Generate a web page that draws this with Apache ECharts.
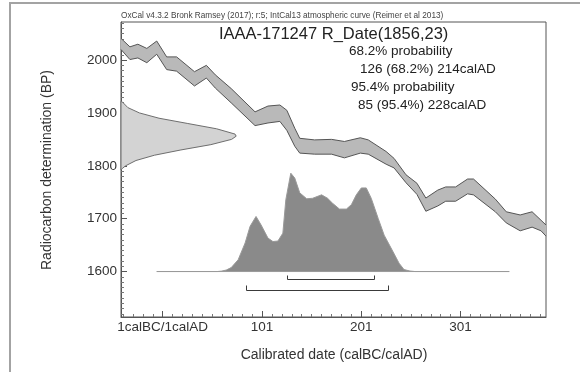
<!DOCTYPE html>
<html>
<head>
<meta charset="utf-8">
<script src="https://cdn.jsdelivr.net/npm/echarts@6/dist/echarts.min.js"></script>
<style>
  html, body { margin: 0; padding: 0; background: #fff; }
  #chart { width: 580px; height: 372px; }
</style>
</head>
<body>
<div id="chart"></div>
<script>
// IntCal13 calibration curve band (calendar year AD, upper / lower BP)
const curveYears = [-41, -32, -24, -15, -5, 5, 15, 33, 45, 54, 70, 94, 107, 119, 126, 134, 139, 154, 171, 184, 200, 208, 226, 234, 246, 257, 266, 278, 286, 296, 308, 314, 336, 347, 361, 373, 382, 387];
const curveUpper = [2041, 2025, 2030, 2022, 2036, 2006, 2006, 1978, 1990, 1972, 1946, 1902, 1913, 1915, 1905, 1871, 1852, 1849, 1850, 1846, 1853, 1849, 1827, 1814, 1783, 1767, 1739, 1754, 1760, 1760, 1775, 1775, 1737, 1713, 1707, 1713, 1697, 1688];
const curveLower = [2020, 2001, 2004, 1995, 2011, 1982, 1979, 1951, 1966, 1947, 1919, 1876, 1881, 1884, 1867, 1837, 1824, 1822, 1822, 1815, 1824, 1822, 1803, 1796, 1768, 1746, 1714, 1724, 1733, 1733, 1747, 1745, 1713, 1692, 1677, 1684, 1677, 1667];

// Radiocarbon measurement R_Date(1856,23): relative density by BP
const rDateBP = [1922, 1920, 1910, 1900, 1890, 1880, 1870, 1860, 1856, 1850, 1840, 1830, 1820, 1810, 1800, 1795, 1792];
const rDateDensity = [0, 0.015, 0.06, 0.16, 0.33, 0.58, 0.83, 0.99, 1.0, 0.96, 0.78, 0.52, 0.29, 0.13, 0.04, 0.012, 0];

// Calibrated date: relative probability by calendar year
const postYears = [-5, 56, 60, 65, 70, 77, 84, 89, 95, 100, 107, 112, 117, 122, 125, 130, 134, 139, 146, 152, 161, 167, 172, 179, 186, 191, 196, 201, 206, 211, 218, 224, 233, 239, 244, 250, 255, 350];
const postProb = [0, 0, 0.004, 0.015, 0.04, 0.12, 0.29, 0.46, 0.56, 0.475, 0.34, 0.305, 0.31, 0.39, 0.73, 1.0, 0.95, 0.80, 0.74, 0.745, 0.78, 0.745, 0.695, 0.635, 0.635, 0.68, 0.78, 0.85, 0.85, 0.745, 0.54, 0.37, 0.20, 0.085, 0.02, 0.005, 0, 0];

// Highest probability ranges (calAD)
const range68 = [126, 214];
const range95 = [85, 228];

// Axis ticks and labels
const xTickYears = [1, 101, 201, 301];
const xTickLabels = ['1calBC/1calAD', '101', '201', '301'];
const yTickValues = [1600, 1700, 1800, 1900, 2000];

// Text block
const headerText = 'OxCal v4.3.2 Bronk Ramsey (2017); r:5; IntCal13 atmospheric curve (Reimer et al 2013)';
const titleText = 'IAAA-171247 R_Date(1856,23)';
const infoLines = ['68.2% probability', '126 (68.2%) 214calAD', '95.4% probability', '85 (95.4%) 228calAD'];

const X_MIN = -41, X_MAX = 387;
const Y_MIN = 1514, Y_MAX = 2072;
const POST_BASE = 1600;      // BP level the calibrated distribution sits on
const POST_HEIGHT = 186;     // BP span of the tallest posterior peak
const RDATE_WIDTH = 116;     // years span of the measurement peak

const xMinor = [];
for (let v = -39; v <= X_MAX; v += 10) if (xTickYears.indexOf(v) < 0) xMinor.push(v);
const yMinor = [];
for (let v = 1520; v <= Y_MAX; v += 10) if (yTickValues.indexOf(v) < 0) yMinor.push(v);

const FONT = "'Liberation Sans', Arial, sans-serif";
const AXIS_COLOR = '#555';

const chart = echarts.init(document.getElementById('chart'), null, { renderer: 'canvas' });

function bandItem(params, api) {
  if (params.dataIndex !== 0) return null;
  const up = curveYears.map((x, i) => api.coord([x, curveUpper[i]]));
  const lo = curveYears.map((x, i) => api.coord([x, curveLower[i]]));
  return {
    type: 'group',
    children: [
      { type: 'polygon', shape: { points: up.concat(lo.slice().reverse()) }, style: { fill: '#b9b9b9', stroke: null } },
      { type: 'polyline', shape: { points: up }, style: { fill: null, stroke: '#555', lineWidth: 1 } },
      { type: 'polyline', shape: { points: lo }, style: { fill: null, stroke: '#555', lineWidth: 1 } }
    ]
  };
}

function rDateItem(params, api) {
  if (params.dataIndex !== 0) return null;
  const pts = rDateBP.map((bp, i) => api.coord([X_MIN + rDateDensity[i] * RDATE_WIDTH, bp]));
  return {
    type: 'polygon',
    shape: { points: pts },
    style: { fill: '#d3d3d3', stroke: '#6e6e6e', lineWidth: 1 }
  };
}

function postItem(params, api) {
  if (params.dataIndex !== 0) return null;
  const top = postYears.map((x, i) => api.coord([x, POST_BASE + postProb[i] * POST_HEIGHT]));
  const base = [api.coord([postYears[postYears.length - 1], POST_BASE]), api.coord([postYears[0], POST_BASE])];
  return {
    type: 'polygon',
    shape: { points: top.concat(base) },
    style: { fill: '#8a8a8a', stroke: '#9a9a9a', lineWidth: 1 }
  };
}

// Range brackets drawn just under the calibrated distribution
function rangeItem(params, api) {
  const a = api.coord([api.value(0), POST_BASE]);
  const b = api.coord([api.value(1), POST_BASE]);
  const level = api.value(2);
  const yLine = Math.round(a[1] + (level === 0 ? 7.7 : 18)) + 0.5;
  const yTick = yLine - (level === 0 ? 4 : 5);
  const x1 = Math.round(a[0]) + 0.5, x2 = Math.round(b[0]) + 0.5;
  return {
    type: 'polyline',
    shape: { points: [[x1, yTick], [x1, yLine], [x2, yLine], [x2, yTick]] },
    style: { fill: null, stroke: '#3a3a3a', lineWidth: 1 }
  };
}

const option = {
  animation: false,
  backgroundColor: '#fff',
  grid: {
    left: 121, right: 34, top: 22, bottom: 55,
    show: true, borderColor: AXIS_COLOR, borderWidth: 1, backgroundColor: 'transparent'
  },
  xAxis: [
    {
      type: 'value', min: X_MIN, max: X_MAX, position: 'bottom',
      axisLine: { show: true, onZero: false, lineStyle: { color: AXIS_COLOR, width: 1 } },
      axisTick: { show: true, inside: true, length: 6, customValues: xTickYears, lineStyle: { color: AXIS_COLOR } },
      axisLabel: {
        show: true, customValues: xTickYears, margin: 3,
        color: '#333', fontFamily: FONT, fontSize: 13.5,
        formatter: v => xTickLabels[xTickYears.indexOf(v)] || ''
      },
      splitLine: { show: false }
    },
    {
      type: 'value', min: X_MIN, max: X_MAX, position: 'bottom', offset: 0,
      axisLine: { show: false, onZero: false },
      axisTick: { show: true, inside: true, length: 3, customValues: xMinor, lineStyle: { color: '#777' } },
      axisLabel: { show: false },
      splitLine: { show: false }
    }
  ],
  yAxis: [
    {
      type: 'value', min: Y_MIN, max: Y_MAX, position: 'left',
      axisLine: { show: true, onZero: false, lineStyle: { color: AXIS_COLOR, width: 1 } },
      axisTick: { show: true, inside: true, length: 6, customValues: yTickValues, lineStyle: { color: AXIS_COLOR } },
      axisLabel: {
        show: true, customValues: yTickValues, margin: 4,
        color: '#333', fontFamily: FONT, fontSize: 13.5,
        formatter: v => String(v)
      },
      splitLine: { show: false }
    },
    {
      type: 'value', min: Y_MIN, max: Y_MAX, position: 'left', offset: 0,
      axisLine: { show: false, onZero: false },
      axisTick: { show: true, inside: true, length: 3, customValues: yMinor, lineStyle: { color: '#777' } },
      axisLabel: { show: false },
      splitLine: { show: false }
    }
  ],
  series: [
    { type: 'custom', name: 'IntCal13', renderItem: bandItem, data: [[X_MIN, Y_MIN]], z: 2, silent: true },
    { type: 'custom', name: 'R_Date', renderItem: rDateItem, data: [[X_MIN, Y_MIN]], z: 3, silent: true },
    { type: 'custom', name: 'Calibrated', renderItem: postItem, data: [[X_MIN, Y_MIN]], z: 3, silent: true },
    {
      type: 'custom', name: 'Ranges', renderItem: rangeItem, z: 4, silent: true,
      data: [[range68[0], range68[1], 0], [range95[0], range95[1], 1]]
    }
  ],
  graphic: [
    // outer frame
    { type: 'polyline', silent: true, z: 10,
      shape: { points: [[10, 372], [10, 3], [580, 3]] },
      style: { fill: null, stroke: '#a3a3a3', lineWidth: 2 } },
    { type: 'text', silent: true, z: 10, left: 121, top: 12,
      style: { text: headerText, fill: '#444', font: '8.25px ' + FONT } },
    { type: 'text', silent: true, z: 10, left: 219, top: 26,
      style: { text: titleText, fill: '#222', font: '16.5px ' + FONT } },
    { type: 'text', silent: true, z: 10, left: 349, top: 44,
      style: { text: infoLines[0], fill: '#222', font: '13.5px ' + FONT } },
    { type: 'text', silent: true, z: 10, left: 360, top: 62,
      style: { text: infoLines[1], fill: '#222', font: '13.5px ' + FONT } },
    { type: 'text', silent: true, z: 10, left: 351, top: 80,
      style: { text: infoLines[2], fill: '#222', font: '13.5px ' + FONT } },
    { type: 'text', silent: true, z: 10, left: 358, top: 98,
      style: { text: infoLines[3], fill: '#222', font: '13.5px ' + FONT } },
    { type: 'text', silent: true, z: 10, x: 47.5, y: 170, rotation: Math.PI / 2,
      style: { text: 'Radiocarbon determination (BP)', fill: '#333', font: '14px ' + FONT, textAlign: 'center', textVerticalAlign: 'middle' } },
    { type: 'text', silent: true, z: 10, x: 334, y: 355,
      style: { text: 'Calibrated date (calBC/calAD)', fill: '#333', font: '14px ' + FONT, textAlign: 'center', textVerticalAlign: 'middle' } }
  ]
};

chart.setOption(option);
</script>
</body>
</html>
